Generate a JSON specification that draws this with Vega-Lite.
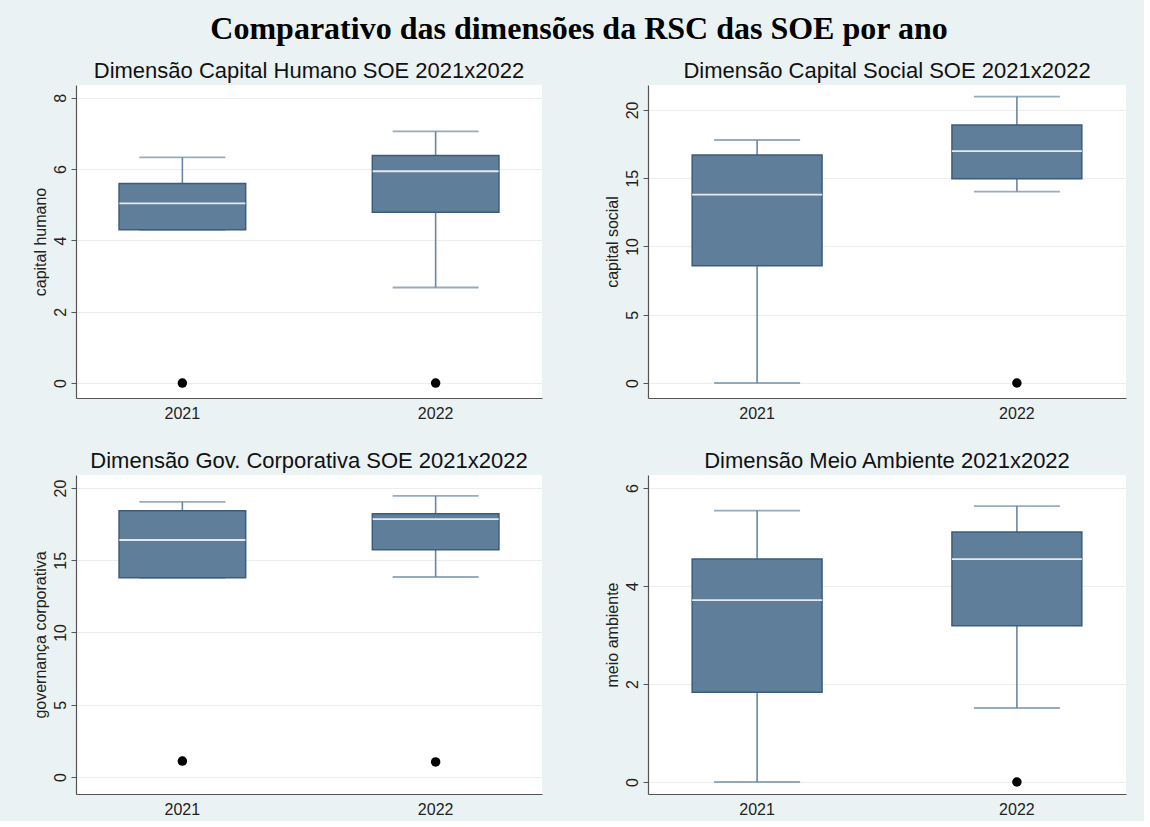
{
  "$schema": "https://vega.github.io/schema/vega-lite/v6.json",
  "background": "#EAF2F3",
  "padding": {"left": 32, "top": 13, "right": 18, "bottom": 4},
  "title": {"text": "Comparativo das dimensões da RSC das SOE por ano", "font": "Liberation Serif", "fontSize": 32, "fontWeight": "bold", "color": "#000000", "anchor": "middle", "offset": 14},
  "datasets": {
    "stats": [
      {"dim": "humano", "year": "2021", "lower": 4.3, "q1": 4.3, "median": 5.04, "q3": 5.6, "upper": 6.33},
      {"dim": "humano", "year": "2022", "lower": 2.68, "q1": 4.79, "median": 5.94, "q3": 6.38, "upper": 7.06},
      {"dim": "social", "year": "2021", "lower": 0, "q1": 8.58, "median": 13.8, "q3": 16.7, "upper": 17.8},
      {"dim": "social", "year": "2022", "lower": 14.02, "q1": 14.97, "median": 16.99, "q3": 18.9, "upper": 20.98},
      {"dim": "gov", "year": "2021", "lower": 13.78, "q1": 13.78, "median": 16.4, "q3": 18.42, "upper": 19.04},
      {"dim": "gov", "year": "2022", "lower": 13.84, "q1": 15.72, "median": 17.85, "q3": 18.22, "upper": 19.45},
      {"dim": "meio", "year": "2021", "lower": 0, "q1": 1.83, "median": 3.71, "q3": 4.55, "upper": 5.54},
      {"dim": "meio", "year": "2022", "lower": 1.51, "q1": 3.19, "median": 4.55, "q3": 5.1, "upper": 5.63}
    ],
    "outliers": [
      {"dim": "humano", "year": "2021", "value": 0},
      {"dim": "humano", "year": "2022", "value": 0},
      {"dim": "social", "year": "2022", "value": 0},
      {"dim": "gov", "year": "2021", "value": 1.1},
      {"dim": "gov", "year": "2022", "value": 1.04},
      {"dim": "meio", "year": "2022", "value": 0}
    ]
  },
  "columns": 2,
  "spacing": {"row": 29, "column": 62},
  "resolve": {"scale": {"x": "independent", "y": "independent"}},
  "concat": [
    {
      "width": 466, "height": 313,
      "title": "Dimensão Capital Humano SOE 2021x2022",
      "encoding": {"x": {"field": "year", "type": "nominal", "title": null, "scale": {"type": "band", "paddingInner": 0.5, "paddingOuter": 0.17}}},
      "layer": [
        {"data": {"name": "stats"}, "transform": [{"filter": "datum.dim == 'humano'"}], "mark": {"type": "rule", "color": "#6A87A2", "strokeWidth": 1.6},
         "encoding": {"y": {"field": "lower", "type": "quantitative", "title": "capital humano", "scale": {"domain": [-0.42, 8.36], "nice": false, "zero": false}, "axis": {"values": [0, 2, 4, 6, 8]}}, "y2": {"field": "upper"}}},
        {"data": {"name": "stats"}, "transform": [{"filter": "datum.dim == 'humano'"}], "mark": {"type": "tick", "color": "#6A87A2", "size": 86, "thickness": 1.8},
         "encoding": {"y": {"field": "upper", "type": "quantitative", "title": "capital humano"}}},
        {"data": {"name": "stats"}, "transform": [{"filter": "datum.dim == 'humano'"}], "mark": {"type": "tick", "color": "#6A87A2", "size": 86, "thickness": 1.8},
         "encoding": {"y": {"field": "lower", "type": "quantitative", "title": "capital humano"}}},
        {"data": {"name": "stats"}, "transform": [{"filter": "datum.dim == 'humano'"}], "mark": {"type": "bar", "fill": "#5F7E9A", "stroke": "#3C5C7E", "strokeWidth": 1.5, "opacity": 1},
         "encoding": {"y": {"field": "q1", "type": "quantitative", "title": "capital humano"}, "y2": {"field": "q3"}}},
        {"data": {"name": "stats"}, "transform": [{"filter": "datum.dim == 'humano'"}], "mark": {"type": "tick", "color": "#E4EAF0", "size": 126, "thickness": 1.8, "opacity": 1},
         "encoding": {"y": {"field": "median", "type": "quantitative", "title": "capital humano"}}},
        {"data": {"name": "outliers"}, "transform": [{"filter": "datum.dim == 'humano'"}], "mark": {"type": "point", "filled": true, "color": "#000000", "size": 90, "opacity": 1},
         "encoding": {"y": {"field": "value", "type": "quantitative", "title": "capital humano"}}}
      ]
    },
    {
      "width": 478, "height": 313,
      "title": "Dimensão Capital Social SOE 2021x2022",
      "encoding": {"x": {"field": "year", "type": "nominal", "title": null, "scale": {"type": "band", "paddingInner": 0.5, "paddingOuter": 0.17}}},
      "layer": [
        {"data": {"name": "stats"}, "transform": [{"filter": "datum.dim == 'social'"}], "mark": {"type": "rule", "color": "#6A87A2", "strokeWidth": 1.6},
         "encoding": {"y": {"field": "lower", "type": "quantitative", "title": "capital social", "scale": {"domain": [-1.1, 21.83], "nice": false, "zero": false}, "axis": {"values": [0, 5, 10, 15, 20]}}, "y2": {"field": "upper"}}},
        {"data": {"name": "stats"}, "transform": [{"filter": "datum.dim == 'social'"}], "mark": {"type": "tick", "color": "#6A87A2", "size": 86, "thickness": 1.8},
         "encoding": {"y": {"field": "upper", "type": "quantitative", "title": "capital social"}}},
        {"data": {"name": "stats"}, "transform": [{"filter": "datum.dim == 'social'"}], "mark": {"type": "tick", "color": "#6A87A2", "size": 86, "thickness": 1.8},
         "encoding": {"y": {"field": "lower", "type": "quantitative", "title": "capital social"}}},
        {"data": {"name": "stats"}, "transform": [{"filter": "datum.dim == 'social'"}], "mark": {"type": "bar", "fill": "#5F7E9A", "stroke": "#3C5C7E", "strokeWidth": 1.5, "opacity": 1},
         "encoding": {"y": {"field": "q1", "type": "quantitative", "title": "capital social"}, "y2": {"field": "q3"}}},
        {"data": {"name": "stats"}, "transform": [{"filter": "datum.dim == 'social'"}], "mark": {"type": "tick", "color": "#E4EAF0", "size": 130, "thickness": 1.8, "opacity": 1},
         "encoding": {"y": {"field": "median", "type": "quantitative", "title": "capital social"}}},
        {"data": {"name": "outliers"}, "transform": [{"filter": "datum.dim == 'social'"}], "mark": {"type": "point", "filled": true, "color": "#000000", "size": 90, "opacity": 1},
         "encoding": {"y": {"field": "value", "type": "quantitative", "title": "capital social"}}}
      ]
    },
    {
      "width": 466, "height": 319,
      "title": "Dimensão Gov. Corporativa SOE 2021x2022",
      "encoding": {"x": {"field": "year", "type": "nominal", "title": null, "scale": {"type": "band", "paddingInner": 0.5, "paddingOuter": 0.17}}},
      "layer": [
        {"data": {"name": "stats"}, "transform": [{"filter": "datum.dim == 'gov'"}], "mark": {"type": "rule", "color": "#6A87A2", "strokeWidth": 1.6},
         "encoding": {"y": {"field": "lower", "type": "quantitative", "title": "governança corporativa", "scale": {"domain": [-1.18, 20.9], "nice": false, "zero": false}, "axis": {"values": [0, 5, 10, 15, 20]}}, "y2": {"field": "upper"}}},
        {"data": {"name": "stats"}, "transform": [{"filter": "datum.dim == 'gov'"}], "mark": {"type": "tick", "color": "#6A87A2", "size": 86, "thickness": 1.8},
         "encoding": {"y": {"field": "upper", "type": "quantitative", "title": "governança corporativa"}}},
        {"data": {"name": "stats"}, "transform": [{"filter": "datum.dim == 'gov'"}], "mark": {"type": "tick", "color": "#6A87A2", "size": 86, "thickness": 1.8},
         "encoding": {"y": {"field": "lower", "type": "quantitative", "title": "governança corporativa"}}},
        {"data": {"name": "stats"}, "transform": [{"filter": "datum.dim == 'gov'"}], "mark": {"type": "bar", "fill": "#5F7E9A", "stroke": "#3C5C7E", "strokeWidth": 1.5, "opacity": 1},
         "encoding": {"y": {"field": "q1", "type": "quantitative", "title": "governança corporativa"}, "y2": {"field": "q3"}}},
        {"data": {"name": "stats"}, "transform": [{"filter": "datum.dim == 'gov'"}], "mark": {"type": "tick", "color": "#E4EAF0", "size": 126, "thickness": 1.8, "opacity": 1},
         "encoding": {"y": {"field": "median", "type": "quantitative", "title": "governança corporativa"}}},
        {"data": {"name": "outliers"}, "transform": [{"filter": "datum.dim == 'gov'"}], "mark": {"type": "point", "filled": true, "color": "#000000", "size": 90, "opacity": 1},
         "encoding": {"y": {"field": "value", "type": "quantitative", "title": "governança corporativa"}}}
      ]
    },
    {
      "width": 478, "height": 319,
      "title": "Dimensão Meio Ambiente 2021x2022",
      "encoding": {"x": {"field": "year", "type": "nominal", "title": null, "scale": {"type": "band", "paddingInner": 0.5, "paddingOuter": 0.17}}},
      "layer": [
        {"data": {"name": "stats"}, "transform": [{"filter": "datum.dim == 'meio'"}], "mark": {"type": "rule", "color": "#6A87A2", "strokeWidth": 1.6},
         "encoding": {"y": {"field": "lower", "type": "quantitative", "title": "meio ambiente", "scale": {"domain": [-0.245, 6.265], "nice": false, "zero": false}, "axis": {"values": [0, 2, 4, 6]}}, "y2": {"field": "upper"}}},
        {"data": {"name": "stats"}, "transform": [{"filter": "datum.dim == 'meio'"}], "mark": {"type": "tick", "color": "#6A87A2", "size": 86, "thickness": 1.8},
         "encoding": {"y": {"field": "upper", "type": "quantitative", "title": "meio ambiente"}}},
        {"data": {"name": "stats"}, "transform": [{"filter": "datum.dim == 'meio'"}], "mark": {"type": "tick", "color": "#6A87A2", "size": 86, "thickness": 1.8},
         "encoding": {"y": {"field": "lower", "type": "quantitative", "title": "meio ambiente"}}},
        {"data": {"name": "stats"}, "transform": [{"filter": "datum.dim == 'meio'"}], "mark": {"type": "bar", "fill": "#5F7E9A", "stroke": "#3C5C7E", "strokeWidth": 1.5, "opacity": 1},
         "encoding": {"y": {"field": "q1", "type": "quantitative", "title": "meio ambiente"}, "y2": {"field": "q3"}}},
        {"data": {"name": "stats"}, "transform": [{"filter": "datum.dim == 'meio'"}], "mark": {"type": "tick", "color": "#E4EAF0", "size": 130, "thickness": 1.8, "opacity": 1},
         "encoding": {"y": {"field": "median", "type": "quantitative", "title": "meio ambiente"}}},
        {"data": {"name": "outliers"}, "transform": [{"filter": "datum.dim == 'meio'"}], "mark": {"type": "point", "filled": true, "color": "#000000", "size": 90, "opacity": 1},
         "encoding": {"y": {"field": "value", "type": "quantitative", "title": "meio ambiente"}}}
      ]
    }
  ],
  "config": {
    "view": {"fill": "#FFFFFF", "stroke": null},
    "font": "Liberation Sans",
    "axis": {"labelFont": "Liberation Sans", "labelFontSize": 16, "labelColor": "#222222", "titleFont": "Liberation Sans", "titleFontSize": 16, "titleFontWeight": "normal", "titleColor": "#222222", "domainColor": "#555555", "tickColor": "#555555", "domainWidth": 1.2, "tickWidth": 1},
    "axisX": {"ticks": false, "labelAngle": 0, "labelPadding": 7, "grid": false, "domain": true},
    "axisY": {"tickSize": 5, "labelAngle": -90, "labelPadding": 3, "titlePadding": 4, "grid": true, "gridColor": "#ECEEEE", "gridWidth": 1.2},
    "title": {"font": "Liberation Sans", "fontSize": 22, "fontWeight": "normal", "color": "#111111", "offset": 2}
  }
}
